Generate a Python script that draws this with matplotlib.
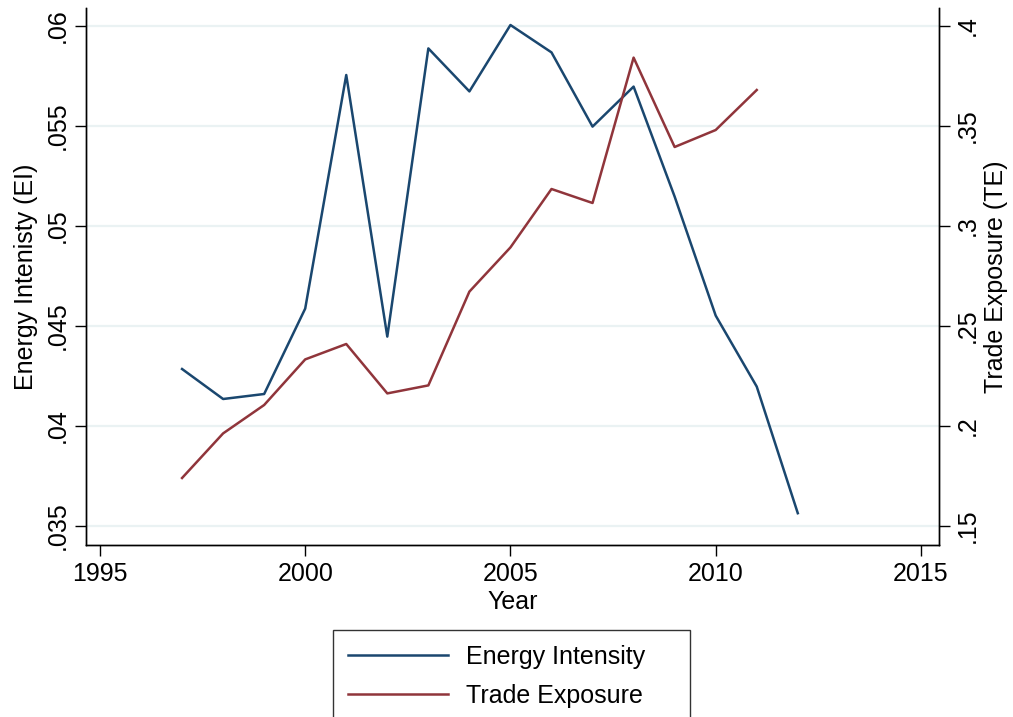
import numpy as np
import matplotlib
matplotlib.use('Agg')
import matplotlib.pyplot as plt

plt.rcParams['font.family'] = ['Liberation Sans', 'DejaVu Sans']

# 数据
years = [1997, 1998, 1999, 2000, 2001, 2002, 2003, 2004, 2005, 2006,
         2007, 2008, 2009, 2010, 2011, 2012]
energy_intensity = [0.04285, 0.04135, 0.0416, 0.04587, 0.05755, 0.04447,
                    0.05888, 0.05673, 0.06005, 0.05868, 0.05497, 0.05697,
                    0.05147, 0.04552, 0.04197, 0.03564]
te_years = years[:-1]
trade_exposure = [0.174, 0.1963, 0.2105, 0.2333, 0.241, 0.2163, 0.2203,
                  0.2672, 0.2893, 0.3185, 0.3115, 0.3842, 0.3395, 0.348,
                  0.368]

x_ticks = [1995, 2000, 2005, 2010, 2015]
ei_ticks = [0.035, 0.04, 0.045, 0.05, 0.055, 0.06]
ei_labels = ['.035', '.04', '.045', '.05', '.055', '.06']
te_ticks = [0.15, 0.2, 0.25, 0.3, 0.35, 0.4]
te_labels = ['.15', '.2', '.25', '.3', '.35', '.4']

navy = '#1A476F'
maroon = '#90353B'
grid_col = '#EAF2F3'
fs = 18

fig = plt.figure(figsize=(10.13, 7.17), dpi=100)
ax = fig.add_axes([86 / 1013, 1 - 545 / 717, (939 - 86) / 1013, (545 - 8) / 717])
ax2 = ax.twinx()

# 网格线
for t in ei_ticks:
    ax.axhline(t, color=grid_col, lw=1.6, zorder=0)

l1, = ax.plot(years, energy_intensity, color=navy, lw=1.8, label='Energy Intensity')
l2, = ax2.plot(te_years, trade_exposure, color=maroon, lw=1.8, label='Trade Exposure')

ax.set_xlim(1994.66, 2015.44)
ax.set_ylim(0.03405, 0.0609)
ax2.set_ylim(0.1405, 0.409)

ax.set_xticks(x_ticks)
ax.set_xticklabels([str(x) for x in x_ticks], fontsize=fs)
ax.set_yticks(ei_ticks)
ax.set_yticklabels(ei_labels, fontsize=fs, rotation=90, va='center')
ax2.set_yticks(te_ticks)
ax2.set_yticklabels(te_labels, fontsize=fs, rotation=90, va='center')

for a in (ax, ax2):
    a.tick_params(direction='out', length=8, width=1, color='black', pad=4)
    a.spines['top'].set_visible(False)
    for s in ('left', 'right', 'bottom'):
        a.spines[s].set_color('black')
        a.spines[s].set_linewidth(1)

ax.set_xlabel('Year', fontsize=fs, labelpad=3)
ax.set_ylabel('Energy Intenisty (EI)', fontsize=fs, labelpad=5)
ax2.set_ylabel('Trade Exposure (TE)', fontsize=fs, labelpad=3)

leg = fig.legend(handles=[l1, l2], loc='upper left',
                 bbox_to_anchor=(333 / 1013, 1 - 630 / 717, 357 / 1013, 0),
                 mode='expand',
                 fontsize=fs, frameon=True, fancybox=False, edgecolor='black',
                 handlelength=4.0, handletextpad=0.7, borderpad=0.6,
                 labelspacing=0.6, borderaxespad=0)
leg.get_frame().set_linewidth(1)

fig.savefig('out.png', dpi=100)
